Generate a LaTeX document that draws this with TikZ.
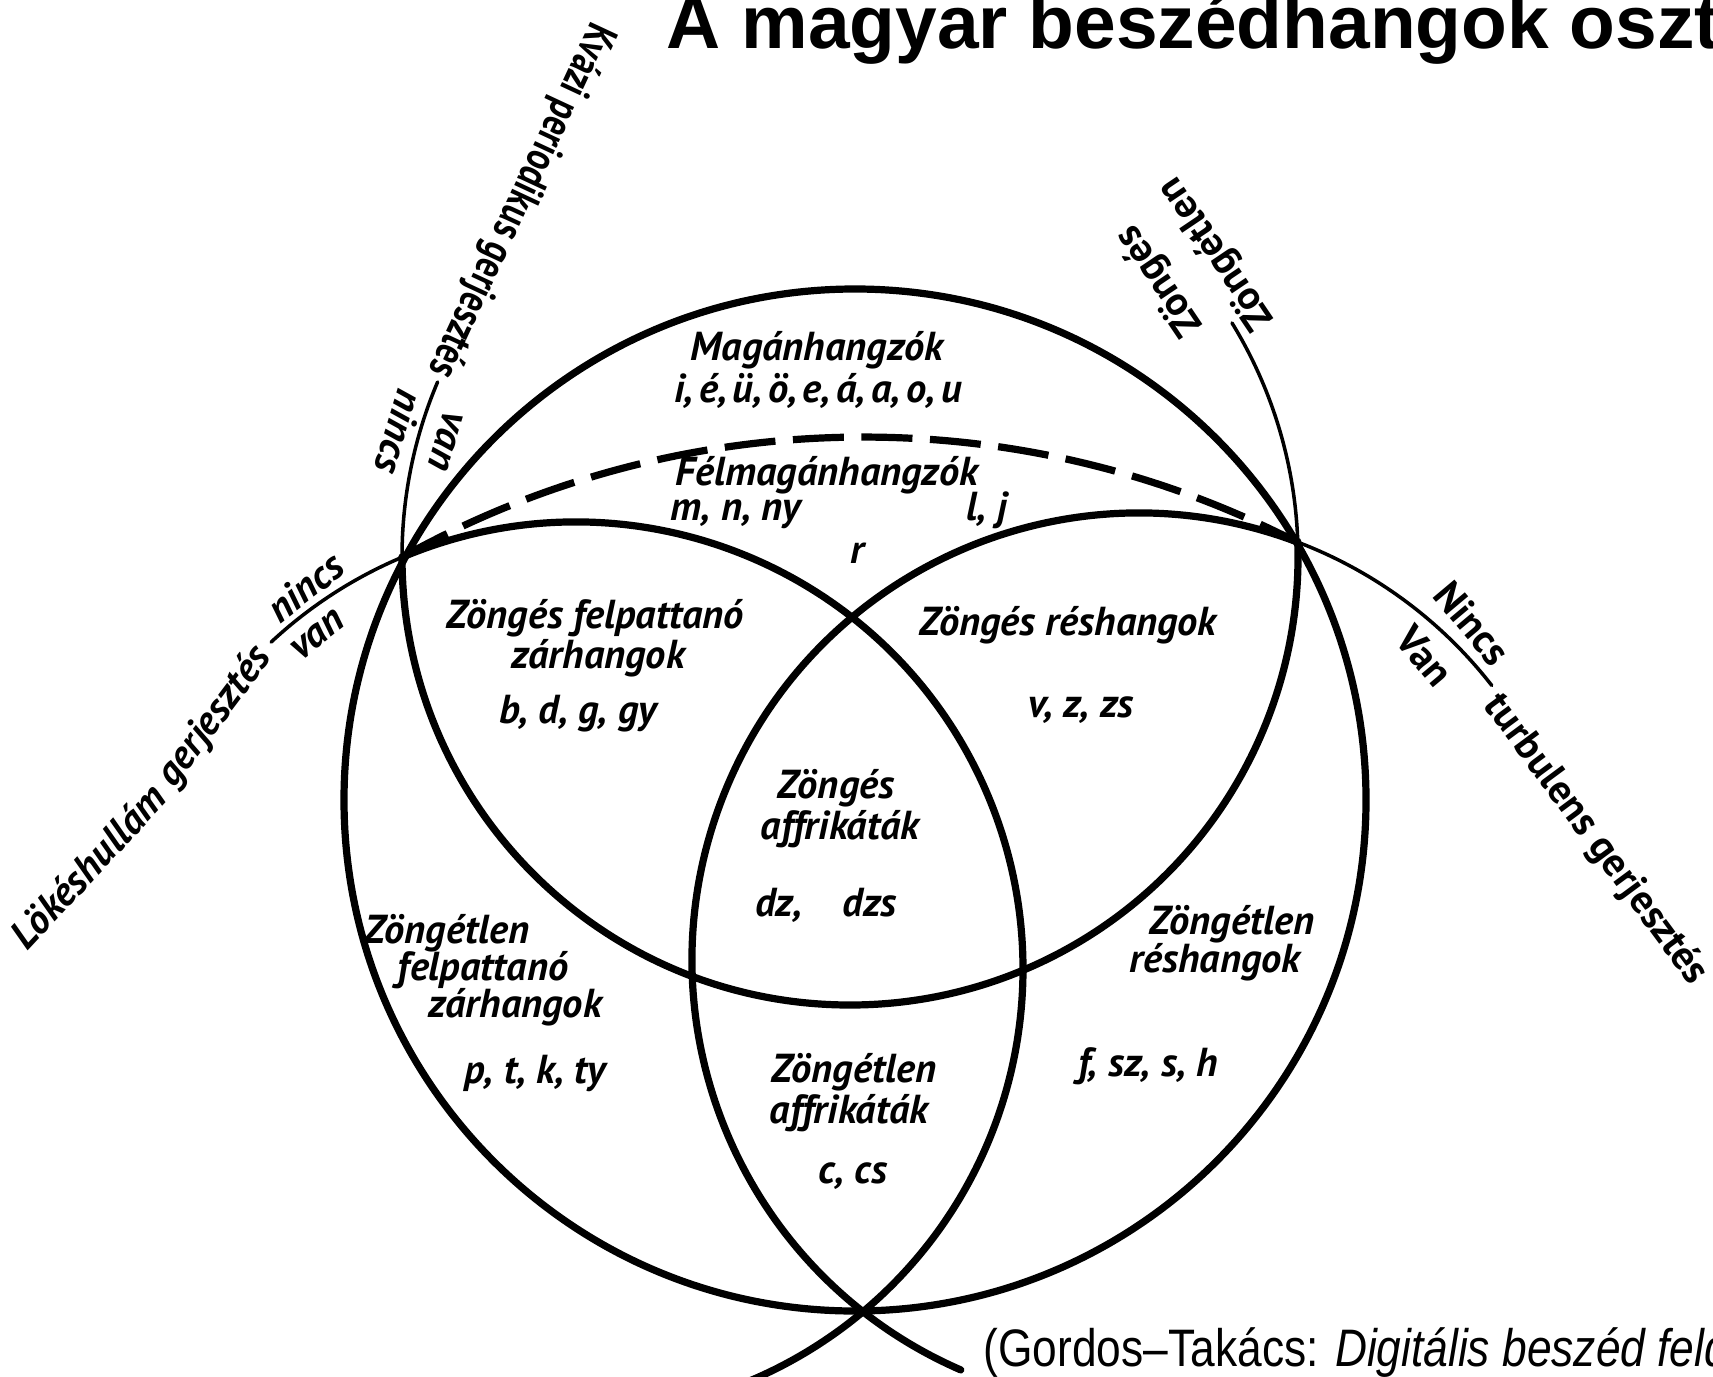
\documentclass[tikz,border=0pt]{standalone}
\usepackage{fontspec}
\setmainfont{Liberation Sans}
\newfontfamily\labfam{PT Sans}
\newfontfamily\labfamc[FakeStretch=0.76]{PT Sans}
\newfontfamily\narrowfam[FakeStretch=0.84]{Liberation Sans}
\newcommand\labit{\labfam\bfseries\itshape\fontsize{11.5pt}{12pt}\selectfont}
\newcommand\labup{\labfam\bfseries\fontsize{11.5pt}{12pt}\selectfont}
\newcommand\labupc{\labfamc\bfseries\fontsize{12.5pt}{13pt}\selectfont}
\tikzset{
  thickline/.style={line width=2.05pt, line cap=round},
  thinline/.style={line width=1pt, line cap=round},
  dashline/.style={line width=2.05pt, dash pattern=on 14.5pt off 5pt},
  lab/.style={font=\labit, inner sep=0pt, anchor=base},
  labu/.style={font=\labup, inner sep=0pt},
  labuc/.style={font=\labupc, inner sep=0pt},
  labi/.style={font=\labit, inner sep=0pt},
}
\begin{document}
\begin{tikzpicture}[x=0.01cm,y=0.01cm]
\useasboundingbox (0,0) rectangle (1713,-1376);
\clip (0,0) rectangle (1713,-1376);
% centres
\coordinate (Cbig) at (855,-800);
\coordinate (Cvoi) at (850,-557);
\coordinate (Cbur) at (576,-969);
\coordinate (Ctur) at (1139,-960);
\coordinate (Cdash) at (863.5,-1383);
% big circle
\draw[thickline] (Cbig) circle[radius=511];
% voiced circle
\draw[thinline] (Cvoi) ++(157:448) arc[start angle=157, end angle=180, radius=448];
\draw[thickline] (Cvoi) ++(180:448) arc[start angle=180, end angle=362, radius=448];
\draw[thinline] (Cvoi) ++(362:448) arc[start angle=362, end angle=391.5, radius=448];
% burst circle
\draw[thinline] (Cbur) ++(133:447) arc[start angle=133, end angle=112.9, radius=447];
\draw[thickline] (Cbur) ++(112.9:447) arc[start angle=112.9, end angle=-68, radius=447];
% turbulent circle
\draw[thinline] (Ctur) ++(37.9:447) arc[start angle=37.9, end angle=69.6, radius=447];
\draw[thickline] (Ctur) ++(69.6:447) arc[start angle=69.6, end angle=246.5, radius=447];
% dashed arc
\draw[dashline] (Cdash) ++(119.2:946) arc[start angle=119.2, end angle=62.9, radius=946];

% title and source
\node[anchor=base west, inner sep=0pt, font=\bfseries\fontsize{21.3pt}{24pt}\selectfont] (title) at (666,-49) {A magyar beszédhangok oszt};
\node[anchor=base west, inner sep=0pt, font=\narrowfam\fontsize{15pt}{17pt}\selectfont] (src) at (983,-1366) {(Gordos–Takács: \textit{Digitális beszéd feld}};

% region labels
\node[lab] (v1) at (817,-360) {Magánhangzók};
\node[lab] (v2) at (818,-402) {\spaceskip=1.6pt\relax i, é, ü, ö, e, á, a, o, u};
\node[lab] (s1) at (827,-485) {Félmagánhangzók};
\node[lab] (s2) at (736,-520) {m, n, ny};
\node[lab] (s3) at (987,-520) {l, j};
\node[lab] (s4) at (857,-563) {r};
\node[lab] (a1) at (595,-628) {Zöngés felpattanó};
\node[lab] (a2) at (598,-668) {zárhangok};
\node[lab] (a3) at (578,-723) {b, d, g, gy};
\node[lab] (b1) at (1068,-635) {Zöngés réshangok};
\node[lab] (b2) at (1081,-717) {v, z, zs};
\node[lab] (c1) at (836,-798) {Zöngés};
\node[lab] (c2) at (840,-839) {affrikáták};
\node[lab] (c3) at (826,-916) {dz,\quad dzs};
\node[lab] (d1) at (447,-943) {Zöngétlen};
\node[lab] (d2) at (483,-980) {felpattanó};
\node[lab] (d3) at (515,-1017) {zárhangok};
\node[lab] (d4) at (535,-1083) {p, t, k, ty};
\node[lab] (e1) at (1232,-934) {Zöngétlen};
\node[lab] (e2) at (1215,-972) {réshangok};
\node[lab] (e3) at (1148,-1076) {f, sz, s, h};
\node[lab] (f1) at (854,-1082) {Zöngétlen};
\node[lab] (f2) at (849,-1123) {affrikáták};
\node[lab] (f3) at (853,-1183) {c, cs};

% axis labels
\node[labuc, rotate=245] (kv) at (520,-200) {Kvázi periodikus gerjesztés};
\node[labi, rotate=253] (kvn) at (400,-432) {nincs};
\node[labi, rotate=253] (kvv) at (446,-441) {van};
\node[labu, rotate=124] (zg) at (1160,-280) {Zöngés};
\node[labu, rotate=124] (zgt) at (1217,-253) {Zöngétlen};
\node[labi, rotate=47] (lk1) at (88,-866) {Lökéshullám};
\node[labi, rotate=53] (lk2) at (215,-717) {gerjesztés};
\node[labi, rotate=38] (lkn) at (305,-587) {nincs};
\node[labi, rotate=38] (lkv) at (318,-635) {van};
\node[labu, rotate=-50] (tn) at (1472,-623) {Nincs};
\node[labu, rotate=-50] (tv) at (1425,-656) {Van};
\node[labu, rotate=-53.5] (tg) at (1595,-840) {turbulens gerjesztés};
\end{tikzpicture}
\end{document}
